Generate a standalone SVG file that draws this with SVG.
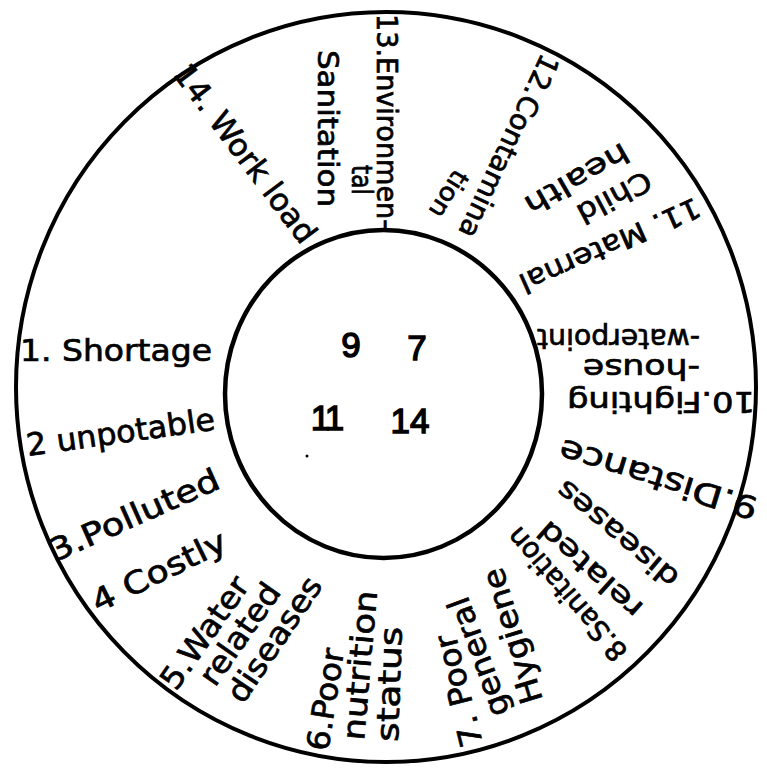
<svg xmlns="http://www.w3.org/2000/svg" width="767" height="769" viewBox="0 0 767 769">
<style>
.ring{fill:none;stroke:#000;stroke-width:4}
.inner{stroke-width:4.5}
text{font-family:"DejaVu Sans","Liberation Sans",sans-serif;fill:#000;stroke:#000;stroke-width:0.7}
.s{font-size:31px}
.m{font-size:28px}
.n{font-family:"Liberation Sans","DejaVu Sans",sans-serif;font-size:35px;stroke-width:1.4}
</style>
<rect width="767" height="769" fill="#fff"/>
<g id="rings">
<ellipse class="ring" cx="386" cy="387" rx="370" ry="375"/>
<ellipse class="ring inner" cx="383.5" cy="394" rx="158.5" ry="164"/>
</g>
<g id="connectors"/>
<g id="center">
<text class="n" x="351" y="357" text-anchor="middle">9</text>
<text class="n" x="417" y="360" text-anchor="middle">7</text>
<text class="n" x="326" y="430" text-anchor="middle" letter-spacing="-3">11</text>
<text class="n" x="410" y="433" text-anchor="middle">14</text>
<circle cx="307" cy="456" r="1.5" fill="#000"/>
</g>
<g id="n1"><text class="s" transform="translate(20,361)" textLength="192" lengthAdjust="spacingAndGlyphs">1. Shortage</text></g>
<g id="n2"><text class="s" transform="translate(28,456) rotate(-8)" textLength="190" lengthAdjust="spacingAndGlyphs">2 unpotable</text></g>
<g id="n3"><text class="s" transform="translate(55,562) rotate(-24)" textLength="183" lengthAdjust="spacingAndGlyphs">3.Polluted</text></g>
<g id="n4"><text class="s" transform="translate(98,613) rotate(-26)" textLength="146" lengthAdjust="spacingAndGlyphs">4 Costly</text></g>
<g id="n5">
<text class="s" transform="translate(176,692) rotate(-55)" textLength="130" lengthAdjust="spacingAndGlyphs">5.Water</text>
<text class="s" transform="translate(215,688) rotate(-55)" textLength="117" lengthAdjust="spacingAndGlyphs">related</text>
<text class="s" transform="translate(243,705) rotate(-56)" textLength="144" lengthAdjust="spacingAndGlyphs">diseases</text>
</g>
<g id="n6">
<text class="s" transform="translate(328,752) rotate(-81)" textLength="103" lengthAdjust="spacingAndGlyphs">6.Poor</text>
<text class="s" transform="translate(364,741) rotate(-85)" textLength="150" lengthAdjust="spacingAndGlyphs">nutrition</text>
<text class="s" transform="translate(398,742) rotate(-88)" textLength="115" lengthAdjust="spacingAndGlyphs">status</text>
</g>
<g id="n7">
<text class="s" transform="translate(483,744) rotate(-104)" textLength="115" lengthAdjust="spacingAndGlyphs">7. Poor</text>
<text class="s" transform="translate(510,712) rotate(-110)" textLength="125" lengthAdjust="spacingAndGlyphs">general</text>
<text class="s" transform="translate(543,700) rotate(-107)" textLength="140" lengthAdjust="spacingAndGlyphs">Hygiene</text>
</g>
<g id="n8">
<text class="m" transform="translate(629,651) rotate(-131)" textLength="167" lengthAdjust="spacingAndGlyphs">8.Sanitation</text>
<text class="m" transform="translate(645,606) rotate(-138)" textLength="130" lengthAdjust="spacingAndGlyphs">related</text>
<text class="m" transform="translate(681,575) rotate(-140)" textLength="150" lengthAdjust="spacingAndGlyphs">diseases</text>
</g>
<g id="n9"><text class="s" transform="translate(760,499) rotate(-163)" textLength="206" lengthAdjust="spacingAndGlyphs">9.Distance</text></g>
<g id="n10">
<text class="m" transform="translate(755,392) rotate(180)" textLength="188" lengthAdjust="spacingAndGlyphs">10.Fighting</text>
<text class="m" transform="translate(700,359) rotate(180)" textLength="117" lengthAdjust="spacingAndGlyphs">-house</text>
<text class="m" transform="translate(700,329) rotate(180)" textLength="163" lengthAdjust="spacingAndGlyphs">-waterpoint</text>
</g>
<g id="n11">
<text class="m" transform="translate(695,197) rotate(156)" textLength="195" lengthAdjust="spacingAndGlyphs">11. Maternal</text>
<text class="m" transform="translate(645,170) rotate(152)" textLength="80" lengthAdjust="spacingAndGlyphs">Child</text>
<text class="m" transform="translate(622,142) rotate(150)" textLength="115" lengthAdjust="spacingAndGlyphs">health</text>
</g>
<g id="n12">
<text class="m" transform="translate(542,52) rotate(115)" textLength="199" lengthAdjust="spacingAndGlyphs">12.Contamina</text>
<text class="m" style="font-size:25px" transform="translate(455,168) rotate(122)" textLength="51" lengthAdjust="spacingAndGlyphs">tion</text>
</g>
<g id="n13">
<text class="m" transform="translate(377,14) rotate(90)" textLength="215" lengthAdjust="spacingAndGlyphs">13.Environmen-</text>
<text class="m" transform="translate(352,165) rotate(90)" textLength="30" lengthAdjust="spacingAndGlyphs">tal</text>
<text class="m" transform="translate(318,50) rotate(90)" textLength="157" lengthAdjust="spacingAndGlyphs">Sanitation</text>
</g>
<g id="n14"><text class="s" transform="translate(172,74) rotate(53)" textLength="215" lengthAdjust="spacingAndGlyphs">14. Work load</text></g>
</svg>
